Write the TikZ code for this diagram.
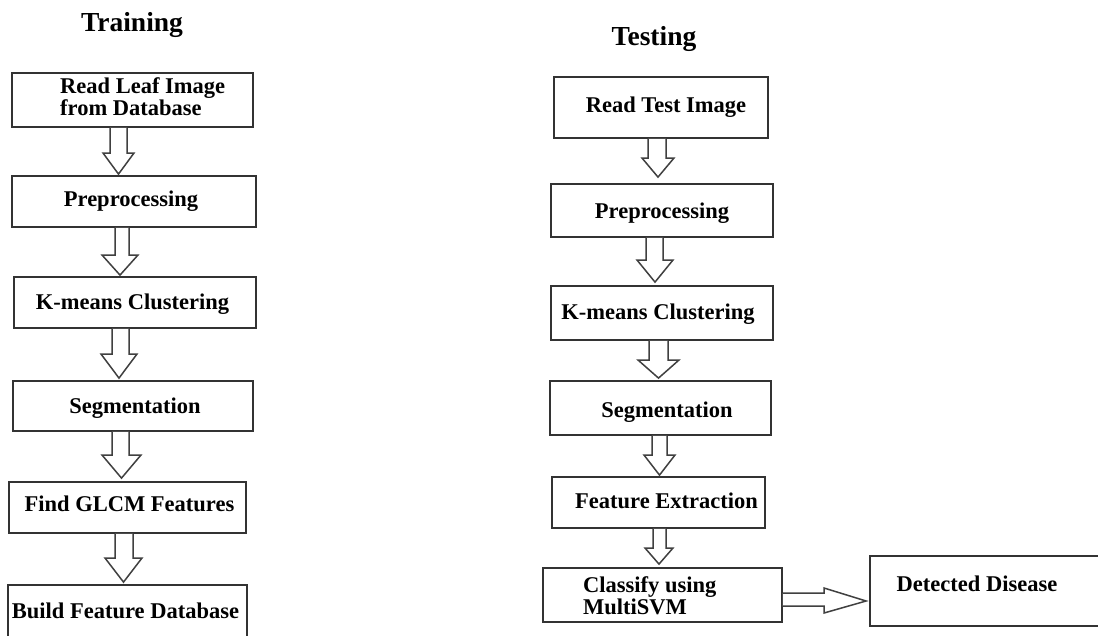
\documentclass[tikz,border=0pt]{standalone}
\usepackage{fontspec}
\setmainfont{Liberation Serif}
\usetikzlibrary{calc}
\tikzset{
  box/.style={draw=black!80, line width=1.8pt, fill=white, inner sep=0pt, rectangle},
  txt/.style={inner sep=0pt, font=\fontsize{22.5}{22}\selectfont\bfseries, text=black},
  ttl/.style={inner sep=0pt, font=\fontsize{27.5}{30}\selectfont\bfseries, text=black},
  blockarrow/.style={draw=black!75, line width=1.5pt, fill=white, line join=miter},
}
% #1 from, #2 to, #3 shaft l, #4 shaft r, #5 head l, #6 head r, #7 head y, #8 gap
\newcommand\vblock[8]{%
  \draw[blockarrow] (#3,0 |- #1.south) -- (#3,#7) -- (#5,#7)
    -- ($({(#5+#6)/2},0 |- #2.north)+(0,-#8)$) -- (#6,#7) -- (#4,#7) -- (#4,0 |- #1.south);}
\begin{document}
\begin{tikzpicture}[x=1pt,y=-1pt]
\useasboundingbox (0,0) rectangle (1098,635);
\clip (0,0) rectangle (1098,635);
\fill[white] (0,0) rectangle (1098,635);

% Titles
\node[ttl, anchor=base] (train) at (132,31) {Training};
\node[ttl, anchor=base] (test) at (654,45) {Testing};

% Training boxes
\node[box, minimum width=241, minimum height=54] (t1) at (132.5,100) {};
\node[box, minimum width=244, minimum height=51] (t2) at (134,201.5) {};
\node[box, minimum width=242, minimum height=51] (t3) at (135,302.5) {};
\node[box, minimum width=240, minimum height=50] (t4) at (133,406) {};
\node[box, minimum width=237, minimum height=51] (t5) at (127.5,507.5) {};
\node[box, minimum width=239, minimum height=80] (t6) at (127.5,625) {};

\node[txt, anchor=west, align=left] (t1t) at (60,97) {Read Leaf Image\\from Database};
\node[txt, anchor=base] (t2t) at (131,206) {Preprocessing};
\node[txt, anchor=base] (t3t) at (132.5,309) {K-means Clustering};
\node[txt, anchor=base] (t4t) at (135,413) {Segmentation};
\node[txt, anchor=base] (t5t) at (129.5,511) {Find GLCM Features};
\node[txt, anchor=base] (t6t) at (125.5,618) {Build Feature Database};

% Testing boxes
\node[box, minimum width=214, minimum height=61] (s1) at (661,107.5) {};
\node[box, minimum width=222, minimum height=53] (s2) at (662,210.5) {};
\node[box, minimum width=222, minimum height=54] (s3) at (662,313) {};
\node[box, minimum width=221, minimum height=54] (s4) at (660.5,408) {};
\node[box, minimum width=213, minimum height=51] (s5) at (658.5,502.5) {};
\node[box, minimum width=239, minimum height=54] (s6) at (662.5,595) {};
\node[box, minimum width=260, minimum height=70] (s7) at (1000,591) {};

\node[txt, anchor=base] (s1t) at (666,112) {Read Test Image};
\node[txt, anchor=base] (s2t) at (662,218) {Preprocessing};
\node[txt, anchor=base] (s3t) at (658,319) {K-means Clustering};
\node[txt, anchor=base] (s4t) at (667,417) {Segmentation};
\node[txt, anchor=base] (s5t) at (666.5,508) {Feature Extraction};
\node[txt, anchor=west, align=left] (s6t) at (583,596) {Classify using\\MultiSVM};
\node[txt, anchor=base] (s7t) at (977,591) {Detected Disease};

% Training arrows
\vblock{t1}{t2}{110}{127}{103}{134}{153}{1}
\vblock{t2}{t3}{115}{129}{102}{138}{255}{1}
\vblock{t3}{t4}{112}{129}{101}{137}{354}{2}
\vblock{t4}{t5}{112}{129}{102}{141}{455}{3}
\vblock{t5}{t6}{115}{133}{105}{142}{558}{2}

% Testing arrows
\vblock{s1}{s2}{648}{666}{642}{674}{158}{6}
\vblock{s2}{s3}{646}{663}{637}{673}{260}{3}
\vblock{s3}{s4}{649}{668}{638}{679}{360}{2}
\vblock{s4}{s5}{652}{667}{644}{675}{455}{1}
\vblock{s5}{s6}{653}{666}{645}{673}{548}{3}

% Horizontal arrow
\draw[blockarrow] (s6.east |- 0,593) -- (824,593) -- (824,588)
  -- ($(s7.west |- 0,601)+(-3,0)$) -- (824,613) -- (824,606) -- (s6.east |- 0,606);
\end{tikzpicture}
\end{document}
